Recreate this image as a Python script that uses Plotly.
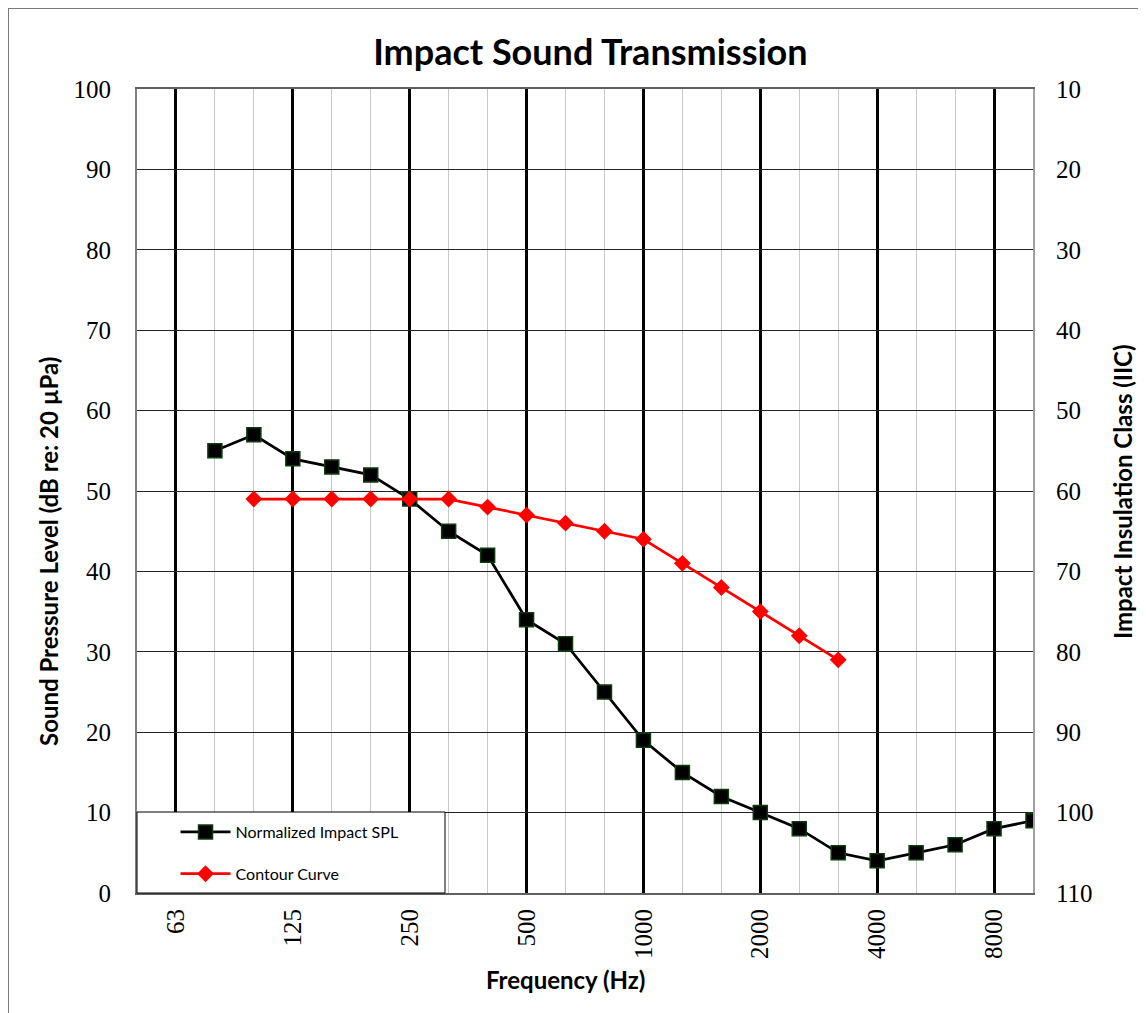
import plotly.graph_objects as go

freqs = ["50", "63", "80", "100", "125", "160", "200", "250", "315", "400", "500", "630",
         "800", "1000", "1250", "1600", "2000", "2500", "3150", "4000", "5000", "6300", "8000", "10000"]
octave_labels = ["63", "125", "250", "500", "1000", "2000", "4000", "8000"]

spl_freqs = ["80", "100", "125", "160", "200", "250", "315", "400", "500", "630", "800", "1000",
             "1250", "1600", "2000", "2500", "3150", "4000", "5000", "6300", "8000", "10000"]
spl_values = [55, 57, 54, 53, 52, 49, 45, 42, 34, 31, 25, 19, 15, 12, 10, 8, 5, 4, 5, 6, 8, 9]

contour_freqs = ["100", "125", "160", "200", "250", "315", "400", "500", "630", "800", "1000",
                 "1250", "1600", "2000", "2500", "3150"]
contour_values = [49, 49, 49, 49, 49, 49, 48, 47, 46, 45, 44, 41, 38, 35, 32, 29]

left_ticks = list(range(0, 101, 10))
right_ticks = list(range(10, 111, 10))

idx = {f: i for i, f in enumerate(freqs)}

fig = go.Figure()
fig.add_trace(go.Scatter(
    x=[idx[f] for f in spl_freqs], y=spl_values, name="Normalized Impact SPL",
    mode="lines+markers", legendgroup="a",
    line=dict(color="black", width=2.75),
    marker=dict(symbol="square", size=14, color="black", line=dict(color="#0b3d0b", width=1.5)),
))
fig.add_trace(go.Scatter(
    x=[idx[f] for f in contour_freqs], y=contour_values, name="Contour Curve",
    mode="lines+markers", legendgroup="b",
    line=dict(color="#ff0000", width=2.75),
    marker=dict(symbol="diamond", size=13, color="#ff0000"),
))
# empty trace so the secondary (IIC) axis is drawn
fig.add_trace(go.Scatter(x=[None], y=[None], yaxis="y2", showlegend=False, hoverinfo="skip"))

serif = "Liberation Serif"
sans = "Lato"

W, H = 1138, 1005  # page body has an 8px margin
L, T = 129, 81
PW, PH = 896, 804

fig.update_layout(
    width=W, height=H,
    margin=dict(l=L, r=W - L - PW, t=T, b=H - T - PH),
    paper_bgcolor="white", plot_bgcolor="white",
    showlegend=True,
    legend=dict(x=0.043, y=0.097, xanchor="left", yanchor="top",
                bgcolor="rgba(0,0,0,0)", borderwidth=0,
                font=dict(family=sans, size=16, color="black"),
                itemwidth=50, tracegroupgap=18, traceorder="grouped"),
    xaxis=dict(
        range=[0, len(freqs) - 1],
        tickmode="array", tickvals=[idx[f] for f in octave_labels], ticktext=octave_labels,
        tickangle=-90, tickfont=dict(family=serif, size=25, color="black"),
        showgrid=True, gridcolor="black", gridwidth=2.5,
        minor=dict(tick0=0, dtick=1, showgrid=True, gridcolor="#c8c8c8", gridwidth=1),
        showline=True, linecolor="#606060", linewidth=2, mirror=True,
        zeroline=False, ticks="", ticklabelstandoff=4,
    ),
    yaxis=dict(
        range=[0, 100], tickmode="array", tickvals=left_ticks,
        tickfont=dict(family=serif, size=25, color="black"),
        showgrid=True, gridcolor="#222222", gridwidth=1.2,
        showline=True, linecolor="#808080", linewidth=2,
        zeroline=False, ticks="", ticklabelstandoff=19,
    ),
    yaxis2=dict(
        range=[110, 10], overlaying="y", side="right", tickmode="array", tickvals=right_ticks,
        tickfont=dict(family=serif, size=25, color="black"),
        showgrid=False, showline=True, linecolor="#a0a0a0", linewidth=2,
        zeroline=False, ticks="", ticklabelstandoff=16,
    ),
    title=dict(text="<b>Impact Sound Transmission</b>", x=0.506, xref="paper",
               y=1 - 44 / H, yref="container", xanchor="center", yanchor="middle",
               font=dict(family=sans, size=36, color="black")),
    shapes=[
        dict(type="rect", xref="paper", yref="paper", x0=0, x1=308 / PW, y0=0, y1=81 / PH,
             fillcolor="white", line=dict(color="black", width=1), layer="above"),
        dict(type="rect", xref="paper", yref="paper", x0=(8 - 137) / PW, x1=1.3,
             y0=-0.3, y1=(893 - 8) / PH,
             fillcolor="rgba(0,0,0,0)", line=dict(color="#7a7a7a", width=2), layer="below"),
    ],
    annotations=[
        dict(text="<b>Sound Pressure Level (dB re: 20 µPa)</b>", xref="paper", yref="paper",
             x=(48 - 137) / PW, y=(893 - 552) / PH, textangle=-90, showarrow=False,
             xanchor="center", yanchor="middle", font=dict(family=sans, size=24, color="black")),
        dict(text="<b>Impact Insulation Class (IIC)</b>", xref="paper", yref="paper",
             x=(1122 - 137) / PW, y=(893 - 492) / PH, textangle=-90, showarrow=False,
             xanchor="center", yanchor="middle", font=dict(family=sans, size=24, color="black")),
        dict(text="<b>Frequency (Hz)</b>", xref="paper", yref="paper",
             x=(565 - 137) / PW, y=(893 - 980) / PH, showarrow=False,
             xanchor="center", yanchor="middle", font=dict(family=sans, size=24, color="black")),
    ],
)

fig.write_html("out.html")
